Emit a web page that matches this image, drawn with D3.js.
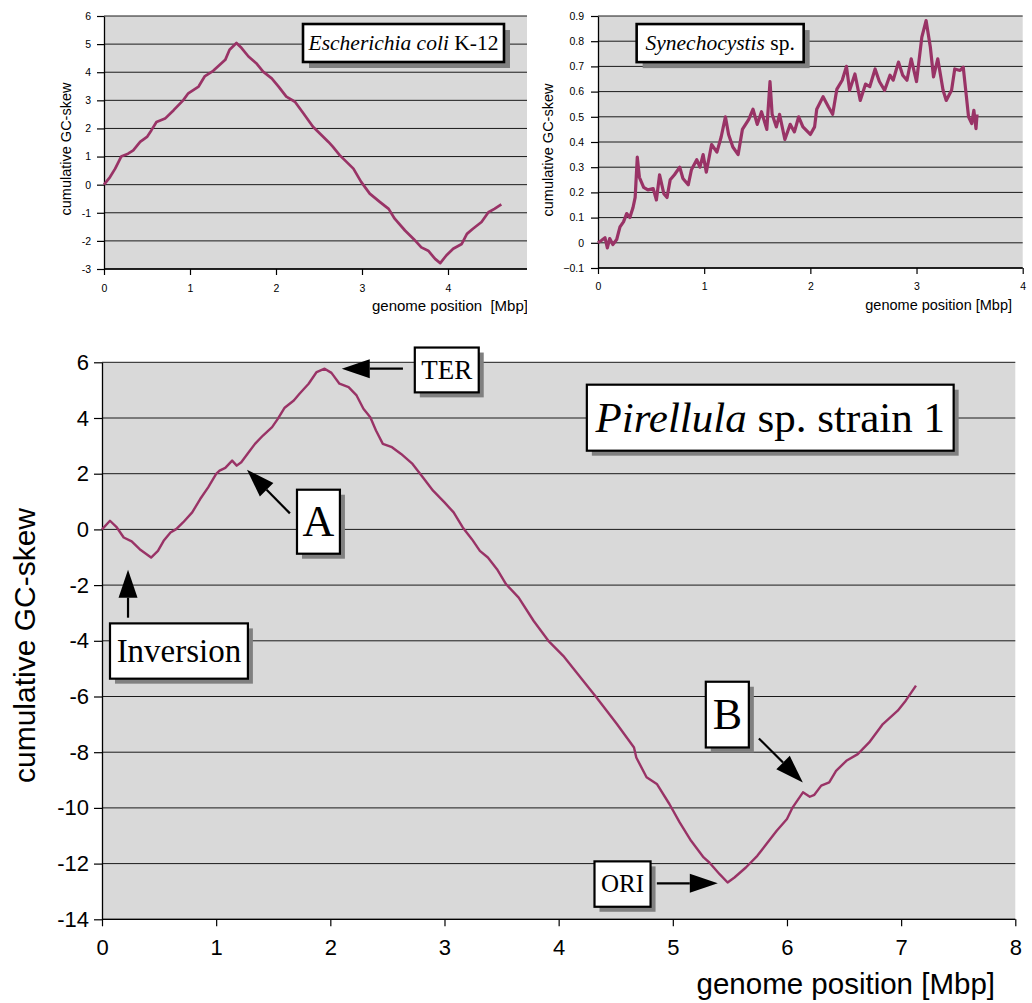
<!DOCTYPE html>
<html>
<head>
<meta charset="utf-8">
<script src="https://cdn.jsdelivr.net/npm/d3@7"></script>
<style>
  body { margin: 0; background: #fff; }
  svg text { font-family: "Liberation Sans", Arial, sans-serif; }
</style>
</head>
<body>
<svg id="chart" width="1032" height="1003"></svg>
<script>
// --- data ---
const ecoliPos = [0,0.07,0.13,0.2,0.28,0.34,0.42,0.5,0.55,0.61,0.71,0.81,0.92,0.98,1.1,1.17,1.27,1.41,1.46,1.54,1.6,1.68,1.77,1.85,1.95,2.03,2.12,2.22,2.32,2.43,2.51,2.61,2.66,2.74,2.82,2.9,2.99,3.09,3.21,3.31,3.38,3.5,3.6,3.69,3.77,3.85,3.91,3.98,4.06,4.16,4.22,4.29,4.39,4.47,4.54,4.62];
const ecoliSkew = [0,0.27,0.57,1.0,1.1,1.22,1.52,1.7,1.93,2.23,2.35,2.65,3.0,3.25,3.49,3.85,4.05,4.44,4.8,5.04,4.86,4.56,4.32,4.02,3.78,3.49,3.13,2.95,2.53,2.06,1.82,1.52,1.35,1.05,0.81,0.57,0.1,-0.32,-0.62,-0.86,-1.21,-1.63,-1.93,-2.23,-2.35,-2.64,-2.79,-2.52,-2.28,-2.11,-1.75,-1.57,-1.33,-0.98,-0.86,-0.7];

const synPos = [0,0.035,0.066,0.088,0.11,0.14,0.176,0.207,0.24,0.27,0.3,0.33,0.35,0.37,0.39,0.43,0.47,0.52,0.55,0.58,0.62,0.65,0.68,0.72,0.77,0.8,0.85,0.88,0.93,0.96,0.99,1.02,1.07,1.12,1.16,1.2,1.23,1.27,1.32,1.36,1.42,1.46,1.5,1.54,1.59,1.62,1.64,1.68,1.71,1.76,1.81,1.85,1.89,1.93,2.0,2.04,2.06,2.12,2.17,2.21,2.25,2.3,2.34,2.37,2.42,2.47,2.52,2.56,2.61,2.65,2.7,2.75,2.78,2.83,2.87,2.91,2.95,3.0,3.05,3.09,3.13,3.16,3.2,3.25,3.28,3.33,3.36,3.41,3.44,3.47,3.49,3.52,3.54,3.56,3.57];
const synSkew = [0,0.01,0.02,-0.02,0.017,-0.007,0.013,0.063,0.083,0.116,0.10,0.14,0.18,0.34,0.26,0.22,0.21,0.215,0.17,0.27,0.195,0.18,0.25,0.27,0.30,0.255,0.23,0.29,0.33,0.30,0.35,0.28,0.39,0.36,0.42,0.50,0.43,0.38,0.35,0.45,0.49,0.53,0.47,0.52,0.45,0.64,0.51,0.46,0.51,0.41,0.47,0.44,0.50,0.46,0.43,0.46,0.53,0.58,0.54,0.51,0.61,0.645,0.70,0.605,0.67,0.565,0.63,0.62,0.69,0.64,0.605,0.665,0.645,0.717,0.665,0.645,0.73,0.64,0.816,0.882,0.777,0.658,0.73,0.605,0.565,0.605,0.69,0.684,0.697,0.579,0.50,0.473,0.526,0.453,0.51];

const pirPos = [0,0.07,0.13,0.19,0.26,0.33,0.43,0.49,0.54,0.6,0.65,0.71,0.79,0.86,0.93,1.0,1.03,1.08,1.14,1.18,1.22,1.28,1.34,1.41,1.49,1.54,1.6,1.68,1.73,1.81,1.88,1.95,2.01,2.08,2.16,2.23,2.29,2.35,2.4,2.46,2.54,2.62,2.72,2.81,2.9,3.0,3.08,3.16,3.24,3.31,3.38,3.46,3.54,3.65,3.78,3.91,4.04,4.19,4.33,4.51,4.66,4.68,4.77,4.86,4.97,5.06,5.16,5.27,5.32,5.41,5.48,5.54,5.64,5.74,5.82,5.91,6.0,6.05,6.14,6.2,6.24,6.3,6.37,6.43,6.52,6.62,6.72,6.84,6.97,7.04,7.13];
const pirSkew = [0,0.31,0.07,-0.29,-0.43,-0.71,-1.01,-0.77,-0.41,-0.11,0.01,0.25,0.61,1.09,1.51,1.99,2.11,2.21,2.47,2.29,2.41,2.74,3.07,3.37,3.67,3.97,4.37,4.63,4.87,5.23,5.65,5.77,5.62,5.23,5.11,4.81,4.33,4.03,3.55,3.07,2.95,2.71,2.35,1.87,1.39,0.97,0.61,0.07,-0.35,-0.77,-1.01,-1.43,-1.97,-2.45,-3.28,-4.0,-4.54,-5.31,-6.03,-6.99,-7.83,-8.19,-8.9,-9.14,-9.86,-10.52,-11.18,-11.78,-11.96,-12.38,-12.68,-12.5,-12.14,-11.72,-11.3,-10.82,-10.4,-9.98,-9.44,-9.6,-9.53,-9.2,-9.08,-8.67,-8.31,-8.07,-7.65,-6.99,-6.51,-6.15,-5.61];

const ecoliXTicks = [0, 1, 2, 3, 4];
const ecoliYTicks = [-3, -2, -1, 0, 1, 2, 3, 4, 5, 6];
const synXTicks = [0, 1, 2, 3, 4];
const synYTicks = [-0.1, 0, 0.1, 0.2, 0.3, 0.4, 0.5, 0.6, 0.7, 0.8, 0.9];
const pirXTicks = [0, 1, 2, 3, 4, 5, 6, 7, 8];
const pirYTicks = [-14, -12, -10, -8, -6, -4, -2, 0, 2, 4, 6];

const lineColor = "#993366";
const svg = d3.select("#chart");

svg.append("defs").append("clipPath").attr("id", "clipLeft")
    .append("rect").attr("x", 0).attr("y", 0).attr("width", 527).attr("height", 330);

// one panel: grey plot area, gridlines, axes, curve
function panel(g, o) {
    const x = d3.scaleLinear().domain(o.xDomain).range(o.xRange);
    const y = d3.scaleLinear().domain(o.yDomain).range(o.yRange);
    const left = o.xRange[0], right = o.xRight, top = o.yRange[1], bottom = o.yRange[0];

    g.append("rect")
        .attr("x", left).attr("y", top)
        .attr("width", right - left).attr("height", bottom - top)
        .attr("fill", "#d9d9d9");

    // horizontal gridlines
    g.selectAll(".grid").data(o.yTicks).enter().append("line")
        .attr("x1", left).attr("x2", right)
        .attr("y1", d => y(d)).attr("y2", d => y(d))
        .attr("stroke", "#1a1a1a").attr("stroke-width", 1);

    const yAxis = d3.axisLeft(y).tickValues(o.yTicks)
        .tickSize(o.tick).tickSizeOuter(0).tickPadding(o.yPad)
        .tickFormat(o.yFormat || (d => d));
    const ya = g.append("g").attr("transform", `translate(${left},0)`).call(yAxis);

    const xAxis = d3.axisBottom(x).tickValues(o.xTicks)
        .tickSize(o.tick - 1).tickSizeOuter(0).tickPadding(o.xPad)
        .tickFormat(d => d);
    const xa = g.append("g").attr("transform", `translate(0,${bottom})`).call(xAxis);
    xa.select(".domain").attr("d", `M${left},0H${right}`);

    [ya, xa].forEach(a => {
        a.select(".domain").attr("stroke", "#000").attr("stroke-width", 1.3);
        a.selectAll(".tick line").attr("stroke", "#000").attr("stroke-width", 1.2);
        a.selectAll("text").attr("fill", "#000")
            .style("font-family", "'Liberation Sans', Arial, sans-serif")
            .style("font-size", o.tickFont + "px");
    });

    const line = d3.line().x(d => x(d[0])).y(d => y(d[1]));
    g.append("path")
        .datum(d3.zip(o.pos, o.skew))
        .attr("d", line)
        .attr("fill", "none")
        .attr("stroke", lineColor)
        .attr("stroke-width", o.lineW)
        .attr("stroke-linejoin", "round");

    return { x, y };
}

function labelBox(g, sc, b) {
    const x0 = sc.x(b.x0), x1 = sc.x(b.x1), y0 = sc.y(b.y0), y1 = sc.y(b.y1);
    g.append("rect").attr("x", x0 + b.sh).attr("y", y0 + b.sh)
        .attr("width", x1 - x0).attr("height", y1 - y0).attr("fill", "#808080");
    g.append("rect").attr("x", x0).attr("y", y0)
        .attr("width", x1 - x0).attr("height", y1 - y0)
        .attr("fill", "#fff").attr("stroke", "#000").attr("stroke-width", b.bw);
    const t = g.append("text")
        .attr("x", (x0 + x1) / 2).attr("y", (y0 + y1) / 2 + b.size * 0.33)
        .attr("text-anchor", "middle")
        .style("font-family", "'Liberation Serif', 'Times New Roman', serif")
        .style("font-size", b.size + "px").attr("fill", "#000");
    b.parts.forEach(p => t.append("tspan").style("font-style", p[1] ? "italic" : "normal")
        .style("font-family", "'Liberation Serif', 'Times New Roman', serif").text(p[0]));
}

function arrow(g, sc, a) {
    const x1 = sc.x(a.from[0]), y1 = sc.y(a.from[1]);
    const x2 = sc.x(a.to[0]), y2 = sc.y(a.to[1]);
    const dx = x2 - x1, dy = y2 - y1, len = Math.hypot(dx, dy);
    const ux = dx / len, uy = dy / len, hl = 28, hw = 9.5;
    const bx = x2 - ux * hl, by = y2 - uy * hl;
    g.append("line").attr("x1", x1).attr("y1", y1).attr("x2", bx).attr("y2", by)
        .attr("stroke", "#000").attr("stroke-width", 2.2);
    g.append("path")
        .attr("d", `M${x2},${y2}L${bx - uy * hw},${by + ux * hw}L${bx + uy * hw},${by - ux * hw}Z`)
        .attr("fill", "#000");
}

// --- E. coli (top left, clipped at right edge) ---
const gA = svg.append("g").attr("clip-path", "url(#clipLeft)");
const sA = panel(gA, {
    xDomain: [0, 5], xRange: [104, 534], xRight: 534,
    yDomain: [-3, 6], yRange: [269, 16],
    xTicks: ecoliXTicks, yTicks: ecoliYTicks,
    pos: ecoliPos, skew: ecoliSkew,
    tick: 7, yPad: 6, xPad: 10, tickFont: 10.5, lineW: 2.7
});
gA.append("text").attr("transform", "translate(70.5,149) rotate(-90)")
    .attr("text-anchor", "middle").style("font-size", "14.5px").text("cumulative GC-skew");
gA.append("text").attr("x", 372).attr("y", 311).style("white-space", "pre")
    .style("font-size", "15px").text("genome position  [Mbp]");
labelBox(gA, sA, { x0: 2.314, x1: 4.651, y0: 5.715, y1: 4.364, sh: 6, bw: 2.6, size: 21.5,
    parts: [["Escherichia coli", true], [" K-12", false]] });

// --- Synechocystis (top right) ---
const gB = svg.append("g");
const sB = panel(gB, {
    xDomain: [0, 4], xRange: [598, 1022.7], xRight: 1022.7,
    yDomain: [-0.1, 0.9], yRange: [268, 16],
    xTicks: synXTicks, yTicks: synYTicks,
    pos: synPos, skew: synSkew,
    tick: 7, yPad: 7, xPad: 9, tickFont: 10.5, lineW: 3.2,
    yFormat: d3.format(".1~f")
});
gB.append("text").attr("transform", "translate(553,150) rotate(-90)")
    .attr("text-anchor", "middle").style("font-size", "14.5px").text("cumulative GC-skew");
gB.append("text").attr("x", 1012).attr("y", 310).attr("text-anchor", "end")
    .style("font-size", "14.5px").text("genome position [Mbp]");
labelBox(gB, sB, { x0: 0.364, x1: 1.937, y0: 0.868, y1: 0.717, sh: 6, bw: 2.6, size: 21.5,
    parts: [["Synechocystis", true], [" sp.", false]] });

// --- Pirellula (bottom) ---
const gC = svg.append("g");
const sC = panel(gC, {
    xDomain: [0, 8], xRange: [102, 1015.3], xRight: 1015.3,
    yDomain: [-14, 6], yRange: [919.3, 362.3],
    xTicks: pirXTicks, yTicks: pirYTicks,
    pos: pirPos, skew: pirSkew,
    tick: 8, yPad: 5, xPad: 13, tickFont: 22, lineW: 2.4
});
gC.append("text").attr("transform", "translate(35,645.5) rotate(-90)")
    .attr("text-anchor", "middle").style("font-size", "30px").text("cumulative GC-skew");
gC.append("text").attr("x", 995).attr("y", 994).attr("text-anchor", "end")
    .style("font-size", "29.5px").text("genome position [Mbp]");

labelBox(gC, sC, { x0: 4.247, x1: 7.46, y0: 5.196, y1: 2.826, sh: 5, bw: 2.2, size: 43,
    parts: [["Pirellula", true], [" sp. strain 1", false]] });
labelBox(gC, sC, { x0: 2.74, x1: 3.30, y0: 6.53, y1: 4.92, sh: 5, bw: 2.2, size: 27, parts: [["TER", false]] });
labelBox(gC, sC, { x0: 1.708, x1: 2.084, y0: 1.425, y1: -0.873, sh: 5, bw: 2.2, size: 44, parts: [["A", false]] });
labelBox(gC, sC, { x0: 0.07, x1: 1.278, y0: -3.375, y1: -5.36, sh: 5, bw: 2.2, size: 33, parts: [["Inversion", false]] });
labelBox(gC, sC, { x0: 5.289, x1: 5.666, y0: -5.47, y1: -7.83, sh: 5, bw: 2.2, size: 44, parts: [["B", false]] });
labelBox(gC, sC, { x0: 4.314, x1: 4.805, y0: -11.92, y1: -13.55, sh: 5, bw: 2.2, size: 25, parts: [["ORI", false]] });

arrow(gC, sC, { from: [2.636, 5.77], to: [2.10, 5.77] });
arrow(gC, sC, { from: [1.646, 0.575], to: [1.27, 2.14] });
arrow(gC, sC, { from: [0.228, -3.17], to: [0.228, -1.447] });
arrow(gC, sC, { from: [5.754, -7.505], to: [6.139, -9.084] });
arrow(gC, sC, { from: [4.86, -12.71], to: [5.394, -12.71] });
</script>
</body>
</html>
